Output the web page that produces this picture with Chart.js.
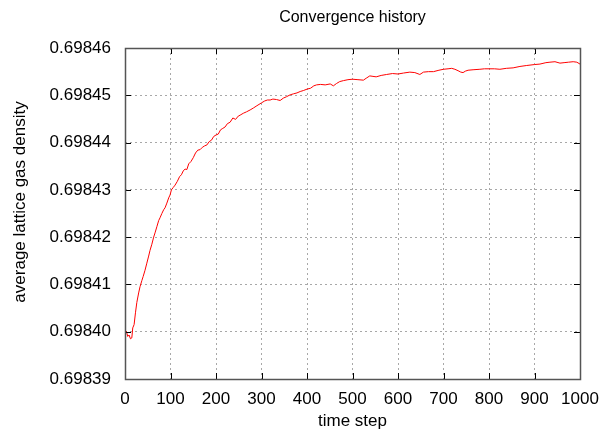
<!DOCTYPE html>
<html>
<head>
<meta charset="utf-8">
<script src="https://cdn.jsdelivr.net/npm/chart.js@4.4.0/dist/chart.umd.min.js"></script>
<style>
  html, body { margin: 0; padding: 0; background: #fff; }
  #wrap { width: 600px; height: 439px; }
</style>
</head>
<body>
<div id="wrap"><canvas id="chartConvergencia"></canvas></div>
<script>
// DATOS
const pasos = [0, 3, 6, 9, 12, 15, 17, 20, 23, 26, 30, 33, 37, 40, 44, 48, 52, 55, 59, 63,
  66, 70, 74, 77, 81, 85, 88, 92, 96, 99, 102, 106, 110, 115, 120, 124, 128, 132, 136, 140,
  145, 150, 155, 160, 165, 170, 175, 180, 185, 190, 195, 200, 205, 210, 215, 220, 225, 231, 237, 243,
  249, 253, 260, 267, 275, 282, 290, 300, 307, 313, 319, 325, 333, 341, 348, 355, 363, 370, 378, 385,
  392, 400, 408, 415, 421, 430, 440, 451, 458, 465, 472, 480, 490, 500, 512, 524, 530, 538, 545, 552,
  563, 575, 588, 600, 612, 626, 637, 648, 656, 667, 678, 690, 700, 710, 718, 725, 732, 738, 743, 748,
  754, 765, 780, 790, 800, 812, 824, 838, 853, 868, 883, 900, 912, 925, 934, 945, 956, 965, 975, 985,
  993, 1000];

const densidad = [0.6983998, 0.6984001, 0.6983990, 0.6983993, 0.6983985, 0.6983987, 0.6984008, 0.6984015, 0.6984040, 0.6984062,
  0.6984082, 0.6984095, 0.6984108, 0.6984117, 0.6984130, 0.6984145, 0.6984160, 0.6984172, 0.6984185, 0.6984200,
  0.6984209, 0.6984222, 0.6984235, 0.6984241, 0.6984250, 0.6984258, 0.6984262, 0.6984272, 0.6984283, 0.6984289,
  0.6984300, 0.6984305, 0.6984310, 0.6984318, 0.6984328, 0.6984332, 0.6984340, 0.6984344, 0.6984343, 0.6984355,
  0.6984360, 0.6984368, 0.6984378, 0.6984384, 0.6984385, 0.6984390, 0.6984393, 0.6984395, 0.6984402, 0.6984405,
  0.6984413, 0.6984416, 0.6984418, 0.6984427, 0.6984430, 0.6984433, 0.6984440, 0.6984443, 0.6984452, 0.6984449,
  0.6984456, 0.6984458, 0.6984462, 0.6984465, 0.6984469, 0.6984473, 0.6984478, 0.6984484, 0.6984488, 0.6984490,
  0.6984490, 0.6984492, 0.6984491, 0.6984489, 0.6984494, 0.6984497, 0.6984501, 0.6984503, 0.6984505, 0.6984508,
  0.6984510, 0.6984513, 0.6984515, 0.6984520, 0.6984522, 0.6984523, 0.6984522, 0.6984524, 0.6984520, 0.6984525,
  0.6984529, 0.6984531, 0.6984533, 0.6984534, 0.6984533, 0.6984532, 0.6984536, 0.6984541, 0.6984540, 0.6984539,
  0.6984542, 0.6984544, 0.6984546, 0.6984545, 0.6984547, 0.6984549, 0.6984548, 0.6984544, 0.6984549, 0.6984550,
  0.6984550, 0.6984553, 0.6984555, 0.6984556, 0.6984557, 0.6984555, 0.6984552, 0.6984549, 0.6984548, 0.6984551,
  0.6984553, 0.6984554, 0.6984555, 0.6984556, 0.6984556, 0.6984556, 0.6984555, 0.6984557, 0.6984558, 0.6984561,
  0.6984563, 0.6984565, 0.6984566, 0.6984569, 0.6984570, 0.6984571, 0.6984568, 0.6984569, 0.6984570, 0.6984571,
  0.6984570, 0.6984566];

const ticksX = [0, 100, 200, 300, 400, 500, 600, 700, 800, 900, 1000];
const ticksY = [0.69839, 0.69840, 0.69841, 0.69842, 0.69843, 0.69844, 0.69845, 0.69846];

const FUENTE = "'Liberation Sans', Arial, sans-serif";
const tituloGrafica = "Convergence history";
const tituloY = "average lattice gas density";

// marco, marcas interiores y titulos (estilo gnuplot)
const marcoPlugin = {
  id: "marco",
  afterDraw(chart) {
    const { ctx, chartArea: a, scales } = chart;
    ctx.save();
    ctx.strokeStyle = "#000";
    ctx.lineWidth = 1;
    ctx.beginPath();
    ticksX.forEach(v => {
      const px = Math.round(scales.x.getPixelForValue(v)) + 0.5;
      ctx.moveTo(px, a.bottom); ctx.lineTo(px, a.bottom - 6);
      ctx.moveTo(px, a.top); ctx.lineTo(px, a.top + 6);
    });
    ticksY.forEach(v => {
      const py = Math.round(scales.y.getPixelForValue(v)) + 0.5;
      ctx.moveTo(a.left, py); ctx.lineTo(a.left + 6, py);
      ctx.moveTo(a.right, py); ctx.lineTo(a.right - 6, py);
    });
    ctx.stroke();

    ctx.strokeStyle = "#555";
    ctx.lineWidth = 1.5;
    ctx.strokeRect(Math.round(a.left) + 0.5, Math.round(a.top) + 0.5,
      Math.round(a.right - a.left), Math.round(a.bottom - a.top));

    ctx.fillStyle = "#000";
    ctx.textAlign = "center";
    ctx.textBaseline = "middle";
    ctx.font = "16px " + FUENTE;
    ctx.fillText(tituloGrafica, (a.left + a.right) / 2, 18);

    ctx.translate(20, 202);
    ctx.rotate(-Math.PI / 2);
    ctx.font = "17px " + FUENTE;
    ctx.fillText(tituloY, 0, 0);
    ctx.restore();
  }
};

const grid = {
  color: "#a8a8a8",
  lineWidth: 1,
  drawTicks: false
};

new Chart(document.getElementById("chartConvergencia"), {
  type: "line",
  data: {
    datasets: [{
      label: "densidad",
      data: pasos.map((p, i) => ({ x: p, y: densidad[i] })),
      borderColor: "#ff0000",
      borderWidth: 1,
      pointRadius: 0,
      tension: 0,
      fill: false
    }]
  },
  options: {
    responsive: true,
    maintainAspectRatio: false,
    animation: false,
    layout: { padding: { top: 48, right: 20, bottom: 0, left: 0 } },
    scales: {
      x: {
        type: "linear",
        min: 0,
        max: 1000,
        afterBuildTicks: s => { s.ticks = ticksX.map(v => ({ value: v })); },
        afterFit: s => { s.height = 60; s.paddingLeft = 0; s.paddingRight = 0; },
        grid: grid,
        border: { display: false, dash: [2, 3] },
        ticks: {
          color: "#000",
          padding: 10,
          maxRotation: 0,
          autoSkip: false,
          font: { family: FUENTE, size: 17 },
          callback: v => String(v)
        },
        title: {
          display: true,
          text: "time step",
          color: "#000",
          padding: { top: 0, bottom: 7 },
          font: { family: FUENTE, size: 17 }
        }
      },
      y: {
        type: "linear",
        min: 0.69839,
        max: 0.69846,
        afterBuildTicks: s => { s.ticks = ticksY.map(v => ({ value: v })); },
        afterFit: s => { s.width = 125; s.paddingTop = 0; s.paddingBottom = 0; },
        grid: grid,
        border: { display: false, dash: [2, 3] },
        ticks: {
          color: "#000",
          padding: 14,
          autoSkip: false,
          font: { family: FUENTE, size: 17 },
          callback: v => v.toFixed(5)
        }
      }
    },
    plugins: {
      legend: { display: false },
      tooltip: { enabled: false },
      title: { display: false }
    }
  },
  plugins: [marcoPlugin]
});
</script>
</body>
</html>
